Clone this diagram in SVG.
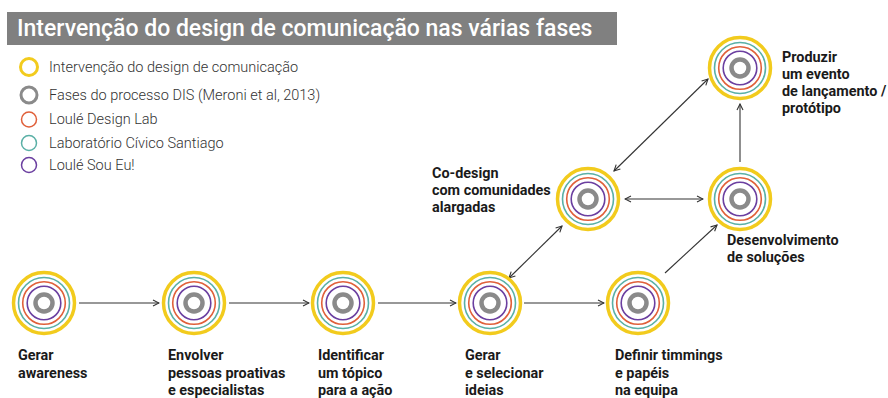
<svg xmlns="http://www.w3.org/2000/svg" width="888" height="398" viewBox="0 0 888 398" xmlns:xlink="http://www.w3.org/1999/xlink">
<style>
.y{fill:none;stroke:#F2CB1D;stroke-width:3.5}
.t{fill:none;stroke:#5AB0A6;stroke-width:1.6}
.o{fill:none;stroke:#E0603A;stroke-width:1.6}
.p{fill:none;stroke:#6B3FA0;stroke-width:1.6}
.g{fill:none;stroke:#8A8A8A;stroke-width:4.5}
.lbl{font-family:Roboto,"Liberation Sans",sans-serif;font-weight:bold;font-size:14.4px;fill:#1a1a1a}
.leg{font-family:Roboto,"Liberation Sans",sans-serif;font-weight:300;font-size:14.5px;fill:#333}
.c{fill:none;stroke:#333;stroke-width:1.1}
</style>
<defs>
<marker id="ah" viewBox="0 0 8 8" refX="7" refY="4" markerWidth="8" markerHeight="8" markerUnits="userSpaceOnUse" orient="auto-start-reverse">
<path d="M1,1 L7,4 L1,7" fill="none" stroke="#333" stroke-width="1.1"/>
</marker>
<g id="rings">
<circle r="30.5" class="y"/>
<circle r="25.5" class="t"/>
<circle r="21.3" class="o"/>
<circle r="16.8" class="p"/>
<circle r="8.5" class="g"/>
</g>
</defs>
<rect x="7" y="12" width="610" height="33" fill="#808080"/>
<text x="17" y="36" font-family="Roboto,'Liberation Sans',sans-serif" font-weight="500" font-size="23" fill="#fff">Intervenção do design de comunicação nas várias fases</text>
<g id="legend">
<circle cx="29" cy="67" r="8.5" fill="none" stroke="#F2CB1D" stroke-width="3"/>
<circle cx="29" cy="95" r="8" fill="none" stroke="#8A8A8A" stroke-width="3"/>
<circle cx="29" cy="119.5" r="7.5" fill="none" stroke="#E0603A" stroke-width="1.5"/>
<circle cx="29" cy="143" r="7.5" fill="none" stroke="#5AB0A6" stroke-width="1.5"/>
<circle cx="29" cy="165" r="7.5" fill="none" stroke="#6B3FA0" stroke-width="1.5"/>
<text class="leg" x="49" y="72">Intervenção do design de comunicação</text>
<text class="leg" x="49" y="100">Fases do processo DIS (Meroni et al, 2013)</text>
<text class="leg" x="49" y="124">Loulé Design Lab</text>
<text class="leg" x="49" y="148">Laboratório Cívico Santiago</text>
<text class="leg" x="49" y="170">Loulé Sou Eu!</text>
</g>
<g id="connectors">
<line class="c" x1="79" y1="303" x2="159" y2="303" marker-end="url(#ah)"/>
<line class="c" x1="229" y1="303" x2="309" y2="303" marker-end="url(#ah)"/>
<line class="c" x1="378" y1="303" x2="456" y2="303" marker-end="url(#ah)"/>
<line class="c" x1="524" y1="303" x2="604" y2="303" marker-end="url(#ah)"/>
<line class="c" x1="665" y1="273" x2="717" y2="225" marker-end="url(#ah)"/>
<line class="c" x1="509" y1="278" x2="562" y2="226" marker-start="url(#ah)" marker-end="url(#ah)"/>
<line class="c" x1="625" y1="199" x2="703" y2="199" marker-start="url(#ah)" marker-end="url(#ah)"/>
<line class="c" x1="614" y1="171" x2="708" y2="79" marker-start="url(#ah)" marker-end="url(#ah)"/>
<line class="c" x1="740" y1="162" x2="740" y2="104" marker-end="url(#ah)"/>
</g>
<g id="n1"><use xlink:href="#rings" x="44" y="303"/>
<text class="lbl" x="18" y="360">Gerar</text><text class="lbl" x="18" y="378">awareness</text></g>
<g id="n2"><use xlink:href="#rings" x="194" y="303"/>
<text class="lbl" x="168" y="360">Envolver</text><text class="lbl" x="168" y="378">pessoas proativas</text><text class="lbl" x="168" y="395">e especialistas</text></g>
<g id="n3"><use xlink:href="#rings" x="343" y="303"/>
<text class="lbl" x="318" y="360">Identificar</text><text class="lbl" x="318" y="378">um tópico</text><text class="lbl" x="318" y="395">para a ação</text></g>
<g id="n4"><use xlink:href="#rings" x="490" y="303"/>
<text class="lbl" x="465" y="360">Gerar</text><text class="lbl" x="465" y="378">e selecionar</text><text class="lbl" x="465" y="395">ideias</text></g>
<g id="n5"><use xlink:href="#rings" x="638" y="303"/>
<text class="lbl" x="615" y="360">Definir timmings</text><text class="lbl" x="615" y="378">e papéis</text><text class="lbl" x="615" y="395">na equipa</text></g>
<g id="n6"><use xlink:href="#rings" x="588" y="199"/>
<text class="lbl" x="432" y="178">Co-design</text><text class="lbl" x="432" y="195">com comunidades</text><text class="lbl" x="432" y="212">alargadas</text></g>
<g id="n7"><use xlink:href="#rings" x="740" y="199"/>
<text class="lbl" x="727" y="245">Desenvolvimento</text><text class="lbl" x="727" y="262">de soluções</text></g>
<g id="n8"><use xlink:href="#rings" x="740" y="68"/>
<text class="lbl" x="782" y="62">Produzir</text><text class="lbl" x="782" y="79">um evento</text><text class="lbl" x="782" y="96">de lançamento /</text><text class="lbl" x="782" y="113">protótipo</text></g>
</svg>
